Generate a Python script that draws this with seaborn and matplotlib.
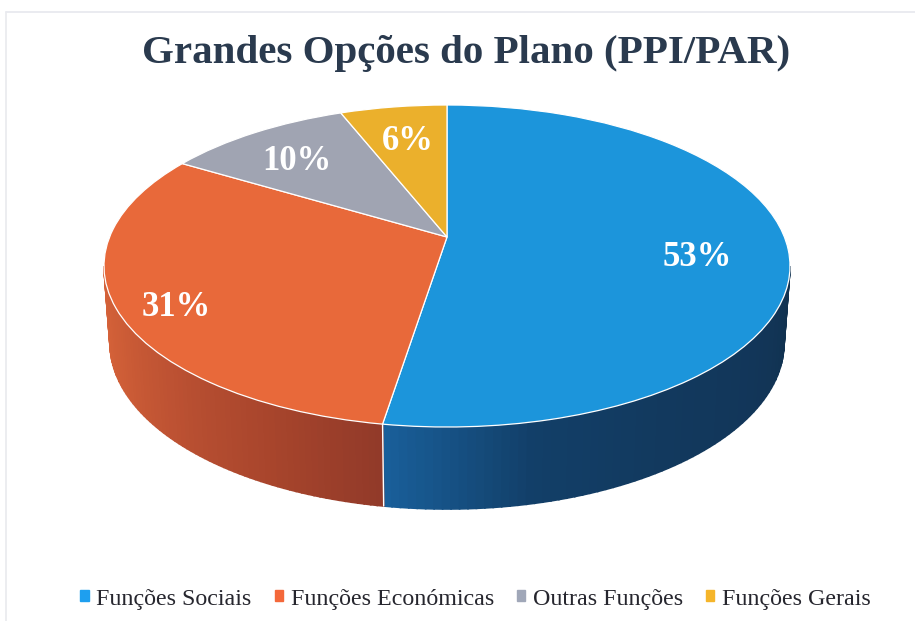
import numpy as np
import matplotlib
matplotlib.use("Agg")
import matplotlib.pyplot as plt
from matplotlib.colors import to_rgb
from matplotlib.transforms import Transform
import seaborn as sns

TITLE = "Grandes Opções do Plano (PPI/PAR)"
categories = ["Funções Sociais", "Funções Económicas", "Outras Funções", "Funções Gerais"]
values = [52.51, 31.1, 10.4, 5.99]
top_colors = ["#1C95DB", "#E8693A", "#A0A4B2", "#EBB02C"]
legend_colors = ["#1E9FEF", "#F4683A", "#A0A7B8", "#F5B52A"]
label_xy = [(697, 258), (176, 307), (297, 161), (408, 141)]

sns.set_theme(style="white")
SERIF = ["Liberation Serif", "DejaVu Serif"]
plt.rcParams["font.family"] = SERIF

# geometry of the tilted disc, in figure pixels
CX, CY, RX, RY = 447.0, 266.0, 343.0, 161.0
BY, BRX, BRY = 343.0, 337.0, 166.0
K = 0.18  # perspective offset of the apex


def project(x, y):
    d = 1 + K * y
    xp = x * np.sqrt(1 - K * K) / d
    yp = (y + K) / d
    return CX + RX * xp, CY - RY * yp


class Tilt(Transform):
    input_dims = output_dims = 2

    def transform_non_affine(self, values):
        v = np.asarray(values)
        px, py = project(v[:, 0], v[:, 1])
        return np.column_stack([px, py])


fig = plt.figure(figsize=(9.15, 6.21), dpi=100, facecolor="white")
ax = fig.add_axes([0, 0, 1, 1])

palette = sns.color_palette(top_colors)
wedges, _ = ax.pie(values, colors=palette, startangle=90, counterclock=False,
                   wedgeprops=dict(edgecolor="white", linewidth=0.9, zorder=5))
ax.set_aspect("auto")
ax.set_xlim(0, 915)
ax.set_ylim(621, 0)
ax.axis("off")
tilt = Tilt() + ax.transData
for w in wedges:
    w.set_transform(tilt)

# wall of the disc: visible slices only (front half)
seam_deg = 90 - 360 * values[0] / sum(values)
sx, sy = project(np.cos(np.radians(seam_deg)), np.sin(np.radians(seam_deg)))
t_seam = np.arctan2(-(sy - CY) / RY, (sx - CX) / RX)


def wall(t0, t1, stops, n=70):
    ts = np.linspace(t0, t1, n + 1)
    rgb = np.array([to_rgb(c) for c in stops])
    pos = np.linspace(0, 1, len(stops))
    for i in range(n):
        a, b = ts[i], ts[i + 1]
        u = i / (n - 1)
        col = [np.interp(u, pos, rgb[:, k]) for k in range(3)]
        xs = [CX + RX * np.cos(a), CX + RX * np.cos(b),
              CX + BRX * np.cos(b), CX + BRX * np.cos(a)]
        ys = [CY - RY * np.sin(a), CY - RY * np.sin(b),
              BY - BRY * np.sin(b), BY - BRY * np.sin(a)]
        ax.fill(xs, ys, facecolor=col, edgecolor=col, lw=1.2, zorder=2)


wall(t_seam, 0.0, ["#195F9A", "#123F68", "#12395E", "#123659", "#113250"])
wall(-np.pi, t_seam, ["#D8643A", "#CC5C36", "#BA5032", "#A8452C", "#923A29"])
ax.plot([sx, CX + BRX * np.cos(t_seam)],
        [sy, BY - BRY * np.sin(t_seam)], color="white", lw=1.0, zorder=3)

for v, (x, y) in zip(values, label_xy):
    ax.text(x, y, f"{v:.0f}%", color="white", fontsize=25, fontweight="bold",
            ha="center", va="center", zorder=6)

ax.text(466.5, 54, TITLE, color="#2A3A4E", fontsize=29.5, fontweight="bold",
        ha="center", va="center")

handles = [plt.Rectangle((0, 0), 1, 1, color=c) for c in legend_colors]
leg = ax.legend(handles, categories, ncol=4, frameon=False, loc="center",
                bbox_to_anchor=(475.5 / 915, 1 - 599 / 621), fontsize=17.3,
                handlelength=0.34, handleheight=0.34, handletextpad=0.33,
                columnspacing=0.95, labelcolor="#26262E")

# faint frame left by the scan
ax.plot([6, 915], [12, 12], color="#E6E8EE", lw=1.2, zorder=1)
ax.plot([6, 6], [12, 621], color="#E9EAEE", lw=1.2, zorder=1)

fig.savefig("out.png", dpi=100, facecolor="white")
